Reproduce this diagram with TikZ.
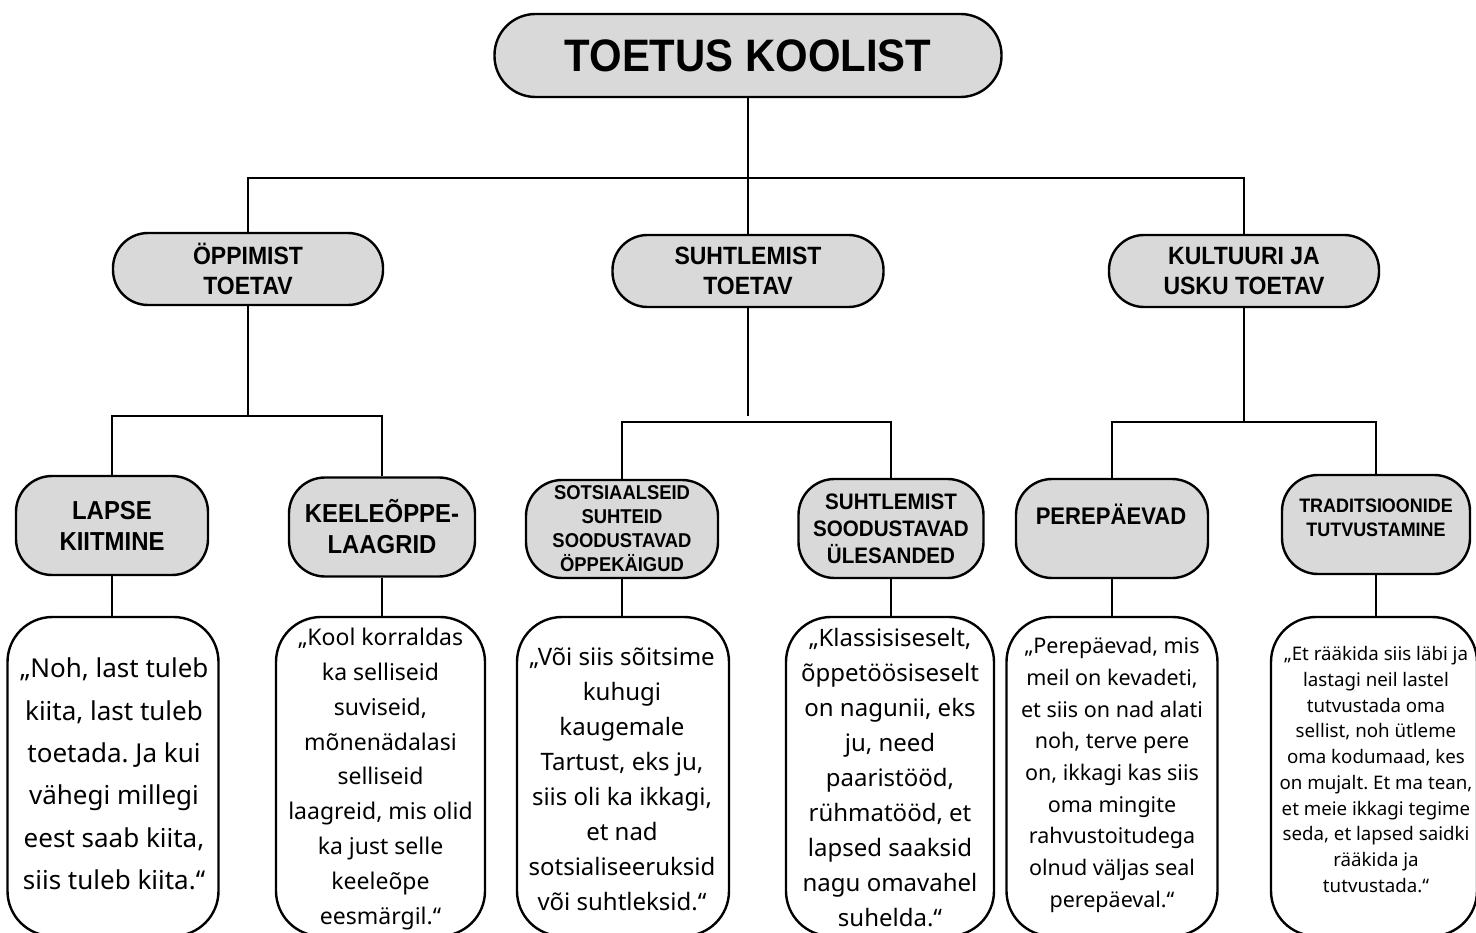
\documentclass[tikz,border=0pt]{standalone}
\usepackage{fontspec}
\setmainfont{Noto Sans}
\newfontfamily\headfont[FakeStretch=0.92]{Liberation Sans}
\definecolor{boxgray}{HTML}{D9D9D9}
\frenchspacing
\tikzset{
  conn/.style={line width=2.1pt, black},
  grayshape/.style={draw, line width=2.4pt, fill=boxgray, inner sep=0pt, align=center},
  titlebox/.style={grayshape, rounded corners=41pt, minimum width=507pt, minimum height=83pt,
    font={\headfont\bfseries\fontsize{45.5}{54}\selectfont}},
  lvltwo/.style={grayshape, rounded corners=35pt, minimum width=270pt, minimum height=72pt,
    font={\headfont\bfseries\fontsize{25}{30}\selectfont}},
  lvlthree/.style={grayshape, rounded corners=36pt, minimum height=99pt},
  qbox/.style={draw, line width=2.4pt, fill=white, rounded corners=45pt, inner sep=0pt, minimum height=319pt},
  qtext/.style={align=center, inner sep=0pt, text=black},
  headtext/.style={align=center, inner sep=0pt}
}
\begin{document}
\begin{tikzpicture}[x=1pt,y=-1pt]
\useasboundingbox (0,0) rectangle (1476,933);
\clip (0,0) rectangle (1476,933);
\fill[white] (0,0) rectangle (1476,933);

% level 1 and 2
\node[titlebox] (top) at (748,55.5) {TOETUS KOOLIST};
\node[lvltwo] (opp) at (248,269) {ÖPPIMIST\\TOETAV};
\node[lvltwo, minimum width=271pt] (suh) at (748,271) {SUHTLEMIST\\TOETAV};
\node[lvltwo] (kul) at (1244,271) {KULTUURI JA\\USKU TOETAV};

% level 3
\node[lvlthree, minimum width=192pt, font={\headfont\bfseries\fontsize{26}{31}\selectfont}] (lapse) at (112,525.5) {LAPSE\\KIITMINE};
\node[lvlthree, minimum width=186pt, font={\headfont\bfseries\fontsize{26}{31}\selectfont}] (keel) at (382,527) {KEELEÕPPE-\\LAAGRID};
\node[lvlthree, minimum width=192pt, minimum height=98pt, font={\headfont\bfseries\fontsize{20}{24}\selectfont}] (sots) at (622,529) {SOTSIAALSEID\\SUHTEID\\SOODUSTAVAD\\ÖPPEKÄIGUD};
\node[lvlthree, minimum width=185pt, font={\headfont\bfseries\fontsize{22.4}{27}\selectfont}] (suhtul) at (891,528.5) {SUHTLEMIST\\SOODUSTAVAD\\ÜLESANDED};
\node[lvlthree, minimum width=192pt] (pere) at (1112,528.5) {};
\node[headtext, font={\headfont\bfseries\fontsize{24}{29}\selectfont}] (peretext) at (1111,514) {PEREPÄEVAD};
\node[lvlthree, minimum width=188pt] (trad) at (1376,524.5) {};
\node[headtext, font={\headfont\bfseries\fontsize{19.5}{24}\selectfont}] (tradtext) at (1376,518) {TRADITSIOONIDE\\TUTVUSTAMINE};

% quote boxes
\node[qbox, minimum width=211pt] (q1) at (113,776.5) {};
\node[qbox, minimum width=209pt] (q2) at (380.5,776.5) {};
\node[qbox, minimum width=212pt] (q3) at (623,776.5) {};
\node[qbox, minimum width=208pt] (q4) at (890,776.5) {};
\node[qbox, minimum width=211pt] (q5) at (1112,776.5) {};
\node[qbox, minimum width=206pt] (q6) at (1374,776.5) {};

\node[qtext, font={\fontsize{26}{42.4}\selectfont}] (t1) at (114,774) {„Noh, last tuleb\\kiita, last tuleb\\toetada. Ja kui\\vähegi millegi\\eest saab kiita,\\siis tuleb kiita.“};
\node[qtext, font={\fontsize{23}{34.8}\selectfont}] (t2) at (380.5,779) {„Kool korraldas\\ka selliseid\\suviseid,\\mõnenädalasi\\selliseid\\laagreid, mis olid\\ka just selle\\keeleõpe\\eesmärgil.“};
\node[qtext, font={\fontsize{24}{35}\selectfont}] (t3) at (622,779.5) {„Või siis sõitsime\\kuhugi\\kaugemale\\Tartust, eks ju,\\siis oli ka ikkagi,\\et nad\\sotsialiseeruksid\\või suhtleksid.“};
\node[qtext, font={\fontsize{24}{35}\selectfont}] (t4) at (890,778) {„Klassisiseselt,\\õppetöösiseselt\\on nagunii, eks\\ju, need\\paaristööd,\\rühmatööd, et\\lapsed saaksid\\nagu omavahel\\suhelda.“};
\node[qtext, font={\fontsize{21.5}{31.7}\selectfont}] (t5) at (1112,775) {„Perepäevad, mis\\meil on kevadeti,\\et siis on nad alati\\noh, terve pere\\on, ikkagi kas siis\\oma mingite\\rahvustoitudega\\olnud väljas seal\\perepäeval.“};
\node[qtext, font={\fontsize{18.7}{25.7}\selectfont}] (t6) at (1376,769.5) {„Et rääkida siis läbi ja\\lastagi neil lastel\\tutvustada oma\\sellist, noh ütleme\\oma kodumaad, kes\\on mujalt. Et ma tean,\\et meie ikkagi tegime\\seda, et lapsed saidki\\rääkida ja\\tutvustada.“};

% connectors
\coordinate (busA) at (748,178);
\draw[conn] (top.south) -- (suh.north);
\draw[conn] (opp.north) |- (busA) -| (kul.north);

\coordinate (busB) at (248,416);
\draw[conn] (opp.south) -- (busB);
\draw[conn] (lapse.north) |- (busB) -| (keel.north);

\coordinate (suhend) at (748,416);
\draw[conn] (suh.south) -- (suhend);
\coordinate (busC) at (748,422);
\draw[conn] (sots.north) |- (busC) -| (suhtul.north);

\coordinate (busD) at (1244,422);
\draw[conn] (kul.south) -- (busD);
\draw[conn] (pere.north) |- (busD) -| (trad.north);

\draw[conn] (lapse.south) -- (lapse.south |- q1.north);
\draw[conn] (keel.south) -- (keel.south |- q2.north);
\draw[conn] (sots.south) -- (sots.south |- q3.north);
\draw[conn] (suhtul.south) -- (suhtul.south |- q4.north);
\draw[conn] (pere.south) -- (pere.south |- q5.north);
\draw[conn] (trad.south) -- (trad.south |- q6.north);
\end{tikzpicture}
\end{document}
